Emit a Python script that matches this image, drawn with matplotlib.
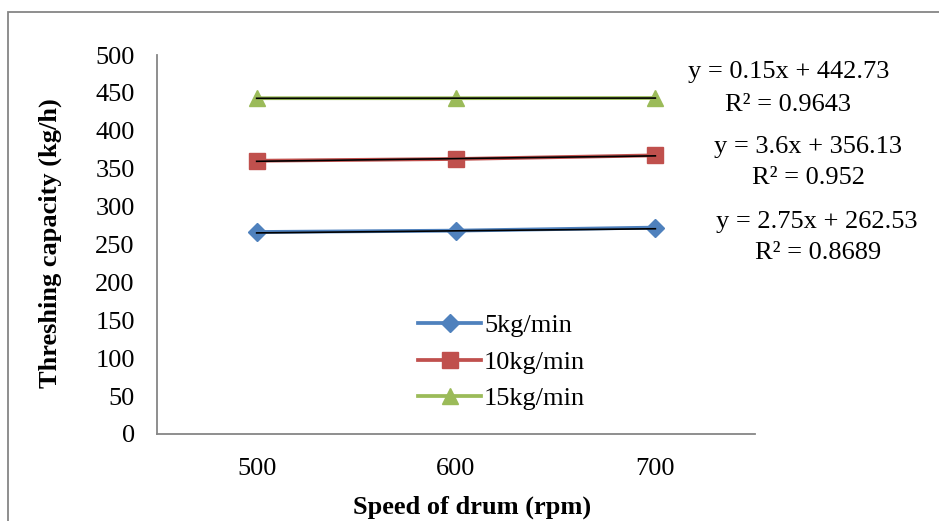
import matplotlib.pyplot as plt
import numpy as np
from matplotlib.patches import Rectangle

plt.rcParams['font.family'] = ['Liberation Serif', 'DejaVu Serif']

speeds = ['500', '600', '700']
feed_labels = ['5kg/min', '10kg/min', '15kg/min']
cap_5 = [266.5, 268.3, 272.3]
cap_10 = [360.5, 362.8, 367.6]
cap_15 = [443.0, 443.0, 443.3]

# trendline coefficients from the chart (x = 1, 2, 3)
slopes = [2.75, 3.6, 0.15]
intercepts = [262.53, 356.13, 442.73]
r2_vals = ['0.8689', '0.952', '0.9643']

colors = ['#4F81BD', '#C0504D', '#9BBB59']
markers = ['D', 's', '^']
msizes = [9, 12, 12]

fig = plt.figure(figsize=(9.39, 5.21), dpi=100)
ax = fig.add_axes([157/939, 1-434/521, (755-157)/939, (434-55)/521])

x = np.arange(len(speeds))
for vals, lab, c, m, ms in zip([cap_5, cap_10, cap_15], feed_labels, colors, markers, msizes):
    ax.plot(x, vals, color=c, marker=m, markersize=ms, linewidth=2.7, label=lab)

for a, b in zip(slopes, intercepts):
    xi = np.array([1, 3])
    ax.plot(xi - 1, a*xi + b, color='black', linewidth=1.2)

ax.set_xlim(-0.5, 2.5)
ax.set_ylim(0, 500)
ax.set_yticks(range(0, 501, 50))
ax.set_xticks(x)
ax.set_xticklabels(speeds)
ax.tick_params(length=0, labelsize=19)
ax.tick_params(axis='y', pad=16)
ax.tick_params(axis='x', pad=17)
for s in ['top', 'right']:
    ax.spines[s].set_visible(False)
for s in ['left', 'bottom']:
    ax.spines[s].set_color('#868686')
    ax.spines[s].set_linewidth(1.3)

fig.text(50/939, 1-243/521, 'Threshing capacity (kg/h)', rotation=90, fontsize=19,
         fontweight='bold', ha='center', va='center')
fig.text(472/939, 1-507/521, 'Speed of drum (rpm)', fontsize=19,
         fontweight='bold', ha='center', va='center')

eq_pos = [(817, 222, 818, 253), (808, 147, 808, 178), (789, 72, 788, 105)]
for a, b, r2, (x1, y1, x2, y2) in zip(slopes, intercepts, r2_vals, eq_pos):
    fig.text(x1/939, 1-y1/521, f'y = {a:g}x + {b:g}', fontsize=19, ha='center', va='center')
    fig.text(x2/939, 1-y2/521, f'R² = {r2}', fontsize=19, ha='center', va='center')

ax.legend(loc='center left', bbox_to_anchor=(418/939, 1-362/521), bbox_transform=fig.transFigure,
          frameon=False, fontsize=19, handlelength=2.4, handletextpad=0.1, labelspacing=0.5,
          borderaxespad=0, borderpad=0)

fig.patches.append(Rectangle((8/939, -0.1), 1.1, 1-12/521+0.1, transform=fig.transFigure,
                             fill=False, edgecolor='#868686', linewidth=1.3))

fig.savefig('out.png', dpi=100)
